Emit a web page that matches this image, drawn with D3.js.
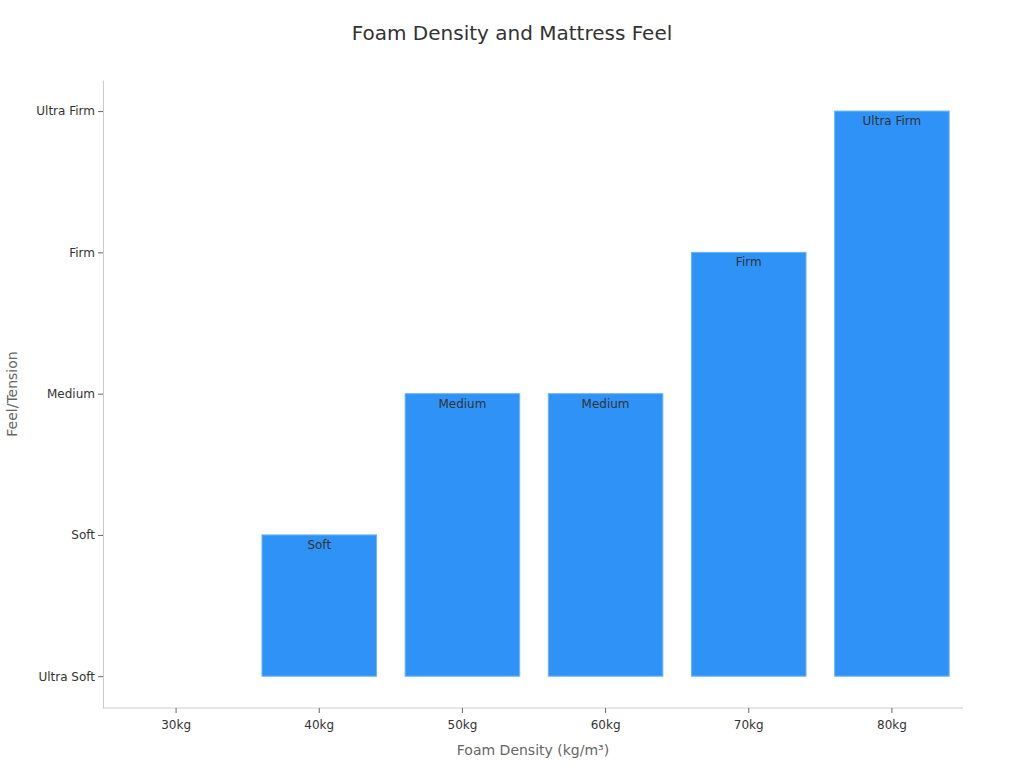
<!DOCTYPE html>
<html>
<head>
<meta charset="utf-8">
<script src="https://cdn.jsdelivr.net/npm/d3@7"></script>
<style>
  body { margin: 0; background: #fff; font-family: "DejaVu Sans", sans-serif; }
</style>
</head>
<body>
<div id="chart"></div>
<script>
// Dữ liệu biểu đồ
const densities = ["30kg", "40kg", "50kg", "60kg", "70kg", "80kg"];
const feelLevels = ["Ultra Soft", "Soft", "Medium", "Firm", "Ultra Firm"];
const feelValues = [0, 1, 2, 2, 3, 4];
const feelLabels = ["Ultra Soft", "Soft", "Medium", "Medium", "Firm", "Ultra Firm"];

const width = 1024;
const height = 768;
const margin = { top: 80, right: 61, bottom: 60, left: 103 };

const svg = d3.select("#chart")
    .append("svg")
    .attr("width", width)
    .attr("height", height);

const x = d3.scaleBand()
    .domain(densities)
    .range([margin.left + 1.5, width - margin.right + 0.5])
    .paddingInner(0.2)
    .paddingOuter(0.1);

const y = d3.scaleLinear()
    .domain([-0.225, 4.22])
    .range([height - margin.bottom, margin.top]);

// Tiêu đề
svg.append("text")
    .attr("x", width / 2)
    .attr("y", 40)
    .attr("text-anchor", "middle")
    .style("font-size", "20px")
    .style("fill", "#333")
    .text("Foam Density and Mattress Feel");

// Trục X
const xAxis = svg.append("g")
    .attr("transform", `translate(0, ${height - margin.bottom})`)
    .call(d3.axisBottom(x).tickSize(5).tickSizeOuter(0));

// Trục Y
const yAxis = svg.append("g")
    .attr("transform", `translate(${margin.left}, 0)`)
    .call(d3.axisLeft(y)
        .tickValues(d3.range(feelLevels.length))
        .tickFormat(i => feelLevels[i])
        .tickSize(5)
        .tickSizeOuter(0));

xAxis.select(".domain").attr("d", `M${margin.left},0H${width - margin.right}`);

[xAxis, yAxis].forEach(ax => {
    ax.select(".domain").attr("stroke", "#ccc");
    ax.selectAll(".tick line").attr("stroke", "#666");
    ax.selectAll(".tick text")
        .style("font-family", "DejaVu Sans, sans-serif")
        .style("font-size", "12px")
        .style("fill", "#333");
});
xAxis.selectAll(".tick text").attr("dy", "1.1em");

// Nhãn trục
svg.append("text")
    .attr("x", margin.left + (width - margin.left - margin.right) / 2)
    .attr("y", 755)
    .attr("text-anchor", "middle")
    .style("font-size", "14px")
    .style("fill", "#666")
    .text("Foam Density (kg/m³)");

svg.append("text")
    .attr("transform", `translate(17, ${(margin.top + height - margin.bottom) / 2}) rotate(-90)`)
    .attr("text-anchor", "middle")
    .style("font-size", "14px")
    .style("fill", "#666")
    .text("Feel/Tension");

// Vẽ cột
svg.selectAll("rect.bar")
    .data(feelValues)
    .enter()
    .append("rect")
    .attr("class", "bar")
    .attr("x", (d, i) => x(densities[i]))
    .attr("y", d => y(d))
    .attr("width", x.bandwidth())
    .attr("height", d => y(0) - y(d))
    .attr("fill", "#2f92f6")
    .attr("stroke", "#6db4f8")
    .attr("stroke-width", 1);

// Nhãn trong cột
feelValues.forEach((d, i) => {
    if (d <= 0) return;
    svg.append("text")
        .attr("x", x(densities[i]) + x.bandwidth() / 2)
        .attr("y", y(d) + 14)
        .attr("text-anchor", "middle")
        .style("font-size", "12px")
        .style("fill", "#333")
        .text(feelLabels[i]);
});
</script>
</body>
</html>
